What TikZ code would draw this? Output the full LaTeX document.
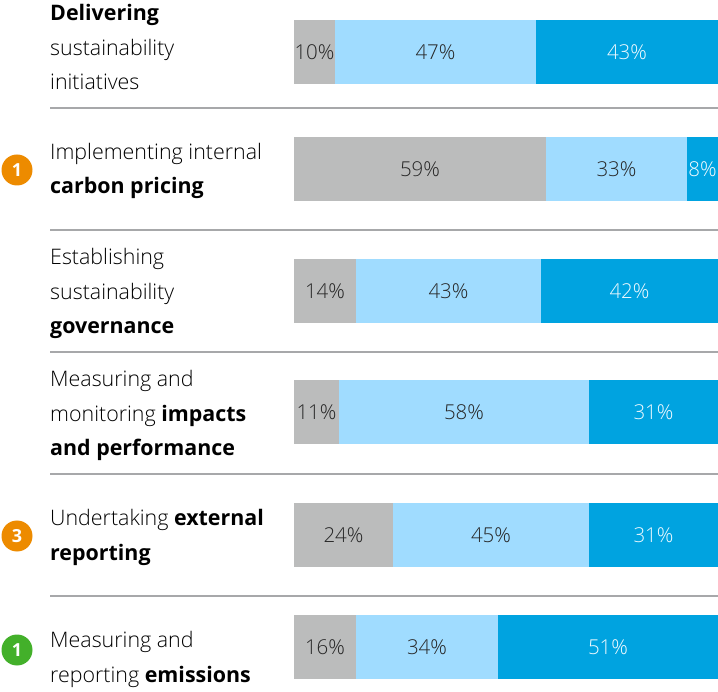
\documentclass[tikz,border=0pt]{standalone}
\usepackage{fontspec}
\IfFontExistsTF{Open Sans Light}
  {\setmainfont{Open Sans}[UprightFont=* Light, BoldFont=* Bold]}
  {\setmainfont{Open Sans}}
\usepackage{tikz}

\definecolor{barGray}{HTML}{BBBCBC}
\definecolor{barLight}{HTML}{A0DCFF}
\definecolor{barBlue}{HTML}{00A3E0}
\definecolor{ruleGray}{HTML}{A7A8AA}
\definecolor{badgeOrange}{HTML}{ED8B00}
\definecolor{badgeGreen}{HTML}{43B02A}

\begin{document}
\begin{tikzpicture}[x=1pt, y=-1pt,
    rowtext/.style={anchor=base west, align=left, inner sep=0pt, font=\fontsize{21.4}{34.5}\selectfont},
    pct/.style={inner sep=0pt, text=black!85, font=\fontsize{20.5}{24}\selectfont},
    pctlight/.style={pct, text=white!85!barLight},
    badge/.style={circle, minimum size=31pt, inner sep=0pt, text=white, font=\bfseries\fontsize{18}{20}\selectfont}]
    \useasboundingbox (0,0) rectangle (718,692);

    % separators
    \foreach \ry in {108,230,352,474,596}
        \draw[ruleGray, line width=1.3pt] (50,\ry) -- (718,\ry);

    % bars: top / end of grey / end of light blue / values
    \foreach \t/\a/\b/\p/\q/\r [count=\i] in {20/335/536/10/47/43, 137/546/687/59/33/8,
        259/356/541/14/43/42, 380/339/589/11/58/31, 503/393/589/24/45/31, 615/356/498/16/34/51}
    {
        \fill[barGray] (294,\t) rectangle (\a,\t+64);
        \fill[barLight] (\a,\t) rectangle (\b,\t+64);
        \fill[barBlue] (\b,\t) rectangle (718,\t+64);
        \node[pct] (g\i) at ({(294+\a)/2},\t+32) {\p\%};
        \node[pct] (l\i) at ({(\a+\b)/2},\t+32) {\q\%};
        \node[pctlight] (d\i) at ({(\b+718)/2},\t+32) {\r\%};
    }

    % row labels (placed at the baseline of their last line)
    \node[rowtext] (t1) at (50,90) {\textbf{Delivering}\\sustainability\\initiatives};
    \node[rowtext] (t2) at (50,194) {Implementing internal\\\textbf{carbon pricing}};
    \node[rowtext] (t3) at (50,334) {Establishing\\sustainability\\\textbf{governance}};
    \node[rowtext] (t4) at (50,456) {Measuring and\\monitoring \textbf{impacts}\\\textbf{and performance}};
    \node[rowtext] (t5) at (50,560) {Undertaking \textbf{external}\\\textbf{reporting}};
    \node[rowtext] (t6) at (50,682) {Measuring and\\reporting \textbf{emissions}};

    % badges
    \node[badge, fill=badgeOrange] (b2) at (17,170) {1};
    \node[badge, fill=badgeOrange] (b5) at (17,536) {3};
    \node[badge, fill=badgeGreen] (b6) at (17,650) {1};
\end{tikzpicture}
\end{document}
